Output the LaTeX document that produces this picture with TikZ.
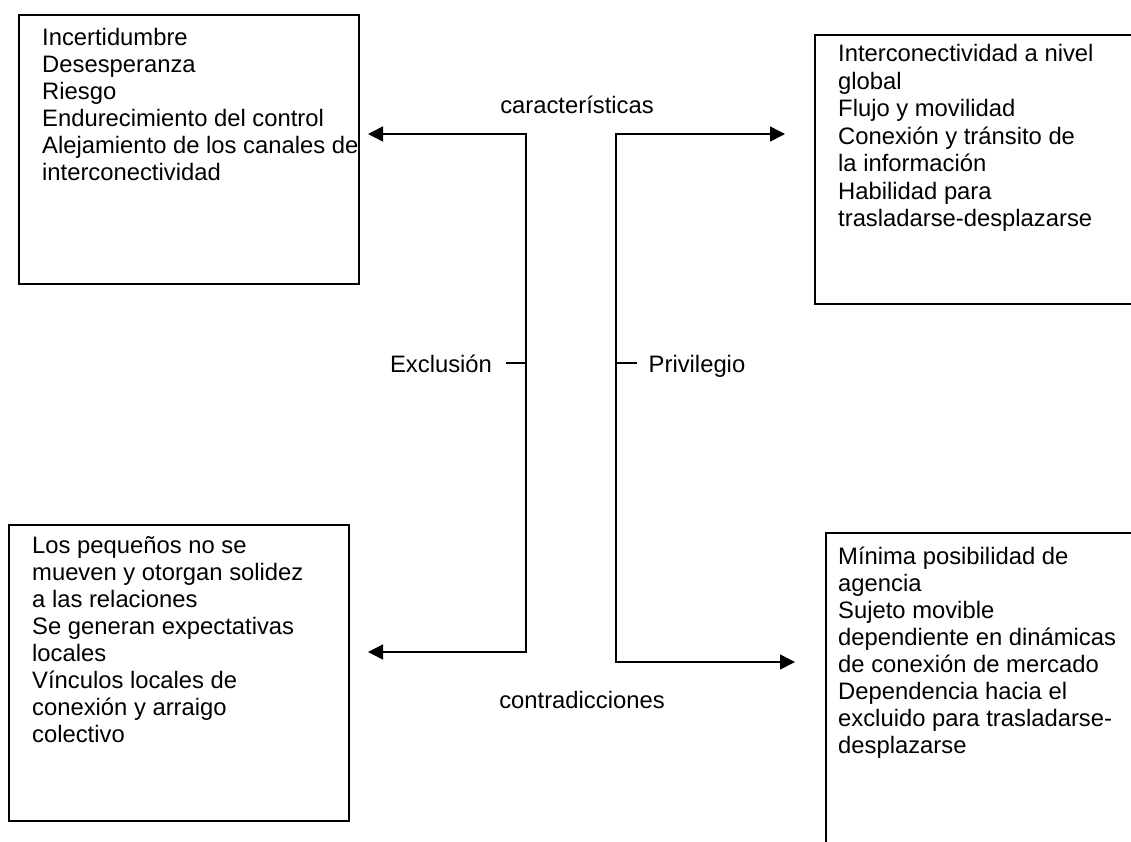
\documentclass[tikz,border=0pt]{standalone}
\usepackage{fontspec}
\setmainfont{Liberation Sans}
\usetikzlibrary{arrows.meta}
\newcommand{\firstline}{\rule{0pt}{20pt}}
\begin{document}
\begin{tikzpicture}[x=1pt,y=-1pt,
  box/.style={draw,line width=1.5pt,inner sep=0pt,anchor=north west},
  txt/.style={align=left,inner sep=0pt,anchor=north west,font=\fontsize{23.8}{27}\selectfont},
  lbl/.style={inner sep=0pt,anchor=base,font=\fontsize{23.8}{27}\selectfont},
  conn/.style={line width=1.5pt},
  tip/.tip={Triangle[length=15pt,width=15pt]},
  arr2/.style={conn,tip-tip}]
\useasboundingbox (0,0) rectangle (1131,841);
\clip (0,0) rectangle (1131,841);
% boxes
\node[box,minimum width=340pt,minimum height=269pt] (tlbox) at (18,14) {};
\node[box,minimum width=400pt,minimum height=269pt] (trbox) at (814,34) {};
\node[box,minimum width=340pt,minimum height=296pt] (blbox) at (8,524) {};
\node[box,minimum width=400pt,minimum height=400pt] (brbox) at (825,532) {};
% box texts
\node[txt] (tltext) at (42,25) {\firstline Incertidumbre\\Desesperanza\\Riesgo\\Endurecimiento del control\\Alejamiento de los canales de\\interconectividad};
\node[txt,font=\fontsize{23.8}{27.5}\selectfont] (trtext) at (838,41.5) {\firstline Interconectividad a nivel\\global\\Flujo y movilidad\\Conexión y tránsito de\\la información\\Habilidad para\\trasladarse-desplazarse};
\node[txt] (bltext) at (32,533.5) {\firstline Los pequeños no se\\mueven y otorgan solidez\\a las relaciones\\Se generan expectativas\\locales\\Vínculos locales de\\conexión y arraigo\\colectivo};
\node[txt] (brtext) at (838,544.5) {\firstline Mínima posibilidad de\\agencia\\Sujeto movible\\dependiente en dinámicas\\de conexión de mercado\\Dependencia hacia el\\excluido para trasladarse-\\desplazarse};
% labels
\node[lbl] (carac) at (577,113) {características};
\node[lbl] (contra) at (582,708) {contradicciones};
\node[lbl] (excl) at (441,372) {Exclusión};
\node[lbl] (priv) at (697,372) {Privilegio};
% connector points
\coordinate (ltip) at (368,134);
\coordinate (lc1) at (526,134);
\coordinate (lmid) at (526,363);
\coordinate (lc2) at (526,652);
\coordinate (lbtip) at (368,652);
\coordinate (ltick) at (506,363);
\coordinate (rtip) at (785,134);
\coordinate (rc1) at (616,134);
\coordinate (rmid) at (616,363);
\coordinate (rc2) at (616,662);
\coordinate (rbtip) at (795,662);
\coordinate (rtick) at (637,363);
% connectors
\draw[arr2] (ltip) -- (lc1) -- (lc2) -- (lbtip);
\draw[arr2] (rtip) -- (rc1) -- (rc2) -- (rbtip);
\draw[conn] (ltick) -- (lmid);
\draw[conn] (rmid) -- (rtick);
\end{tikzpicture}
\end{document}
